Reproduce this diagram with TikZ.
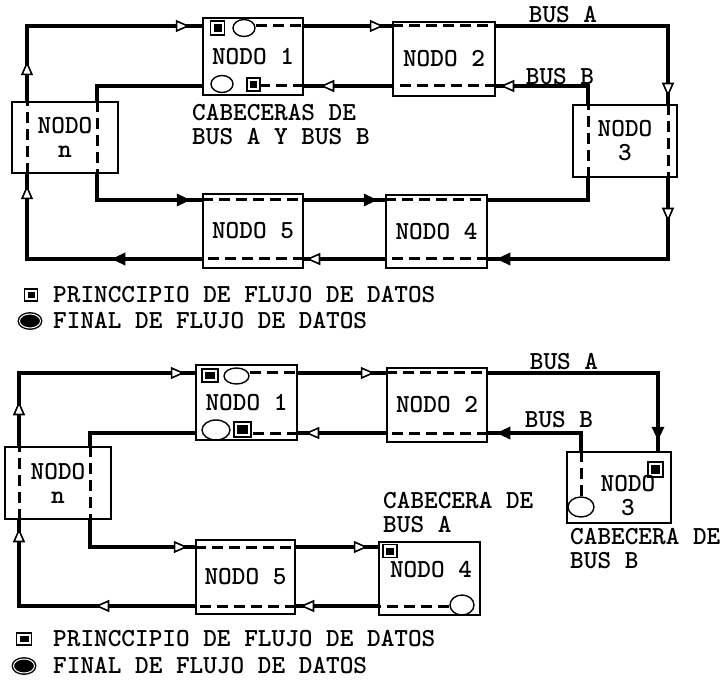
\documentclass[tikz,border=0pt]{standalone}
\usepackage{tikz}
\usetikzlibrary{arrows.meta,decorations.markings,shapes.geometric}

\tikzset{
  abierta/.tip={Triangle[length=14pt,width=12pt,fill=white,line width=1.6pt]},
  llena/.tip={Triangle[length=14pt,width=12pt]}
}

\begin{document}
\begin{tikzpicture}[
    x=1pt, y=-1pt,
    letra/.style={font=\ttfamily\bfseries\fontsize{26}{24}\selectfont},
    nodo/.style={rectangle, draw, line width=1.5pt, inner sep=0pt, align=center, letra},
    rotulo/.style={letra, inner sep=0pt},
    bus/.style={line width=3.2pt},
    tramo/.style={line width=3pt, dash pattern=on 11pt off 6pt},
    fa/.style={postaction={decorate,decoration={markings,mark=at position #1 with {\arrow{abierta}}}}},
    fc/.style={postaction={decorate,decoration={markings,mark=at position #1 with {\arrow{llena}}}}},
    ppio/.style={rectangle, draw, line width=1.4pt, inner sep=0pt, minimum width=14pt, minimum height=14pt,
      path picture={\fill ([shift={(3pt,3pt)}]path picture bounding box.south west) rectangle ([shift={(-3pt,-3pt)}]path picture bounding box.north east);}},
    fin/.style={ellipse, draw, line width=1.4pt, inner sep=0pt, minimum width=22pt, minimum height=17pt},
    finl/.style={ellipse, draw, fill=black, line width=1.4pt, double=white, double distance=1pt, inner sep=0pt, minimum width=21pt, minimum height=14pt}
  ]
  \useasboundingbox (0,0) rectangle (721,687);

  % ---- anillo completo ----
  \node[nodo, minimum width=100pt, minimum height=77pt] (n1T) at (253,56.5) {NODO 1};
  \node[nodo, minimum width=102pt, minimum height=74pt] (n2T) at (444,59) {NODO 2};
  \node[nodo, minimum width=104pt, minimum height=72pt] (n3T) at (625,141) {NODO\\3};
  \node[nodo, minimum width=101pt, minimum height=73pt] (n4T) at (436.5,231.5) {NODO 4};
  \node[nodo, minimum width=100pt, minimum height=74pt] (n5T) at (253,231) {NODO 5};
  \node[nodo, minimum width=106pt, minimum height=71pt] (nnT) at (65,137.5) {NODO\\n};

  \coordinate (cA1) at (27,26);
  \coordinate (cA2) at (668,26);
  \coordinate (cA3) at (668,259);
  \coordinate (cA4) at (27,259);
  \coordinate (cB1) at (588,86);
  \coordinate (cB2) at (97,86);
  \coordinate (cB3) at (97,200);
  \coordinate (cB4) at (588,200);

  \node[ppio] (p1Ta) at (217.5,28) {};
  \node[fin] (f1Ta) at (244,28) {};
  \node[fin] (f1Tb) at (222,84) {};
  \node[ppio, minimum width=13pt, minimum height=13pt] (p1Tb) at (253.5,84.5) {};

  % bus A
  \draw[bus, fa=40pt, fa=238pt] (cA1 |- nnT.north) -- (cA1) -- (cA1 -| n1T.west);
  \draw[tramo] (f1Ta.east |- cA1) -- (cA1 -| n1T.east);
  \draw[bus, fa=80pt] (cA1 -| n1T.east) -- (cA1 -| n2T.west);
  \draw[tramo] (cA1 -| n2T.west) -- (cA1 -| n2T.east);
  \draw[bus, fa=243pt] (cA2 -| n2T.east) -- (cA2) -- (cA2 |- n3T.north);
  \draw[tramo] (cA2 |- n3T.north) -- (cA2 |- n3T.south);
  \draw[bus, fa=44pt, fc=253pt] (cA2 |- n3T.south) -- (cA3) -- (cA3 -| n4T.east);
  \draw[tramo] (cA3 -| n4T.east) -- (cA3 -| n4T.west);
  \draw[bus, fa=79pt] (cA3 -| n4T.west) -- (cA3 -| n5T.east);
  \draw[tramo] (cA3 -| n5T.east) -- (cA3 -| n5T.west);
  \draw[bus, fc=91pt, fa=249pt] (cA3 -| n5T.west) -- (cA4) -- (cA4 |- nnT.south);
  \draw[tramo] (cA4 |- nnT.south) -- (cA1 |- nnT.north);

  % bus B
  \draw[bus, fa=106pt] (cB1 |- n3T.north) -- (cB1) -- (cB1 -| n2T.east);
  \draw[tramo] (cB1 -| n2T.east) -- (cB1 -| n2T.west);
  \draw[bus, fa=72pt] (cB1 -| n2T.west) -- (cB1 -| n1T.east);
  \draw[tramo] (cB1 -| n1T.east) -- (p1Tb.east |- cB1);
  \draw[bus] (cB2 -| n1T.west) -- (cB2) -- (cB2 |- nnT.north);
  \draw[tramo] (cB2 |- nnT.north) -- (cB2 |- nnT.south);
  \draw[bus, fc=120pt] (cB3 |- nnT.south) -- (cB3) -- (cB3 -| n5T.west);
  \draw[tramo] (cB3 -| n5T.west) -- (cB3 -| n5T.east);
  \draw[bus, fc=74pt] (cB3 -| n5T.east) -- (cB3 -| n4T.west);
  \draw[tramo] (cB3 -| n4T.west) -- (cB3 -| n4T.east);
  \draw[bus] (cB4 -| n4T.east) -- (cB4) -- (cB4 |- n3T.south);
  \draw[tramo] (cB4 |- n3T.south) -- (cB4 |- n3T.north);

  \node[rotulo] (busAT) at (563,15) {BUS A};
  \node[rotulo] (busBT) at (560,77) {BUS B};
  \node[rotulo, align=left, anchor=west] (cabT) at (192,125) {CABECERAS DE\\BUS A Y BUS B};

  \node[ppio, minimum width=13pt, minimum height=12pt] (lp1) at (31,295) {};
  \node[rotulo, anchor=west] (lt1) at (53,295) {PRINCCIPIO DE FLUJO DE DATOS};
  \node[finl] (lf1) at (30,321) {};
  \node[rotulo, anchor=west] (lt2) at (53,321) {FINAL DE FLUJO DE DATOS};

  % ---- anillo abierto ----
  \node[nodo, minimum width=101pt, minimum height=75pt] (n1B) at (246.5,402.5) {NODO 1};
  \node[nodo, minimum width=100pt, minimum height=74pt] (n2B) at (437,405) {NODO 2};
  \node[nodo, minimum width=104pt, minimum height=71pt] (n3B) at (619,487.5) {};
  \node[nodo, minimum width=101pt, minimum height=73pt] (n4B) at (429.5,578.5) {};
  \node[nodo, minimum width=99pt, minimum height=74pt] (n5B) at (245.5,577) {NODO 5};
  \node[nodo, minimum width=106pt, minimum height=72pt] (nnB) at (58,483) {NODO\\n};
  \node[rotulo, align=center] (t3B) at (628,496) {NODO\\3};
  \node[rotulo] (t4B) at (431,570) {NODO 4};

  \coordinate (dA1) at (19,373);
  \coordinate (dA2) at (658,373);
  \coordinate (dA4) at (19,606);
  \coordinate (dB1) at (581,433);
  \coordinate (dB2) at (90,433);
  \coordinate (dB3) at (90,547);

  \node[ppio, minimum width=16pt, minimum height=13pt] (p1Ba) at (210,375.5) {};
  \node[fin, minimum width=25pt, minimum height=16pt] (f1Ba) at (236.5,376) {};
  \node[fin, minimum width=28pt, minimum height=20pt] (f1Bb) at (216,430) {};
  \node[ppio, minimum width=17pt, minimum height=15pt] (p1Bb) at (242.5,429.5) {};
  \node[ppio, minimum width=15pt, minimum height=15pt] (p3B) at (655.5,469.5) {};
  \node[fin, minimum width=26pt, minimum height=20pt] (f3B) at (581,507) {};
  \node[ppio, minimum width=14pt, minimum height=13pt] (p4B) at (390,551) {};
  \node[fin, minimum width=24pt, minimum height=20pt] (f4B) at (462,605) {};

  % bus A
  \draw[tramo] (f4B.west |- dA4) -- (dA4 -| n4B.west);
  \draw[bus, fa=78pt] (dA4 -| n4B.west) -- (dA4 -| n5B.east);
  \draw[tramo] (dA4 -| n5B.east) -- (dA4 -| n5B.west);
  \draw[bus, fa=100pt, fa=254pt] (dA4 -| n5B.west) -- (dA4) -- (dA4 |- nnB.south);
  \draw[tramo] (dA4 |- nnB.south) -- (dA1 |- nnB.north);
  \draw[bus, fa=45pt, fa=239pt] (dA1 |- nnB.north) -- (dA1) -- (dA1 -| n1B.west);
  \draw[tramo] (f1Ba.east |- dA1) -- (dA1 -| n1B.east);
  \draw[bus, fa=77pt] (dA1 -| n1B.east) -- (dA1 -| n2B.west);
  \draw[tramo] (dA1 -| n2B.west) -- (dA1 -| n2B.east);
  \draw[bus, fc=238pt] (dA2 -| n2B.east) -- (dA2) -- (dA2 |- n3B.north);

  % bus B
  \draw[tramo] (f3B.north) -- (dB1 |- n3B.north);
  \draw[bus, fc=103pt] (dB1 |- n3B.north) -- (dB1) -- (dB1 -| n2B.east);
  \draw[tramo] (dB1 -| n2B.east) -- (dB1 -| n2B.west);
  \draw[bus, fa=81pt] (dB1 -| n2B.west) -- (dB1 -| n1B.east);
  \draw[tramo] (dB1 -| n1B.east) -- (p1Bb.east |- dB1);
  \draw[bus] (dB2 -| n1B.west) -- (dB2) -- (dB2 |- nnB.north);
  \draw[tramo] (dB2 |- nnB.north) -- (dB2 |- nnB.south);
  \draw[bus, fa=125pt] (dB3 |- nnB.south) -- (dB3) -- (dB3 -| n5B.west);
  \draw[tramo] (dB3 -| n5B.west) -- (dB3 -| n5B.east);
  \draw[bus, fa=72pt] (dB3 -| n5B.east) -- (dB3 -| n4B.west);

  \node[rotulo] (busAB) at (564,362) {BUS A};
  \node[rotulo] (busBB) at (559,420) {BUS B};
  \node[rotulo, align=left, anchor=west] (cabA) at (383,512.5) {CABECERA DE\\BUS A};
  \node[rotulo, align=left, anchor=west] (cabB) at (570,549) {CABECERA DE\\BUS B};

  \node[ppio, minimum width=15pt, minimum height=12pt] (lp2) at (24,639) {};
  \node[rotulo, anchor=west] (lt3) at (53,639) {PRINCCIPIO DE FLUJO DE DATOS};
  \node[finl] (lf2) at (24,666) {};
  \node[rotulo, anchor=west] (lt4) at (53,666) {FINAL DE FLUJO DE DATOS};
\end{tikzpicture}
\end{document}
